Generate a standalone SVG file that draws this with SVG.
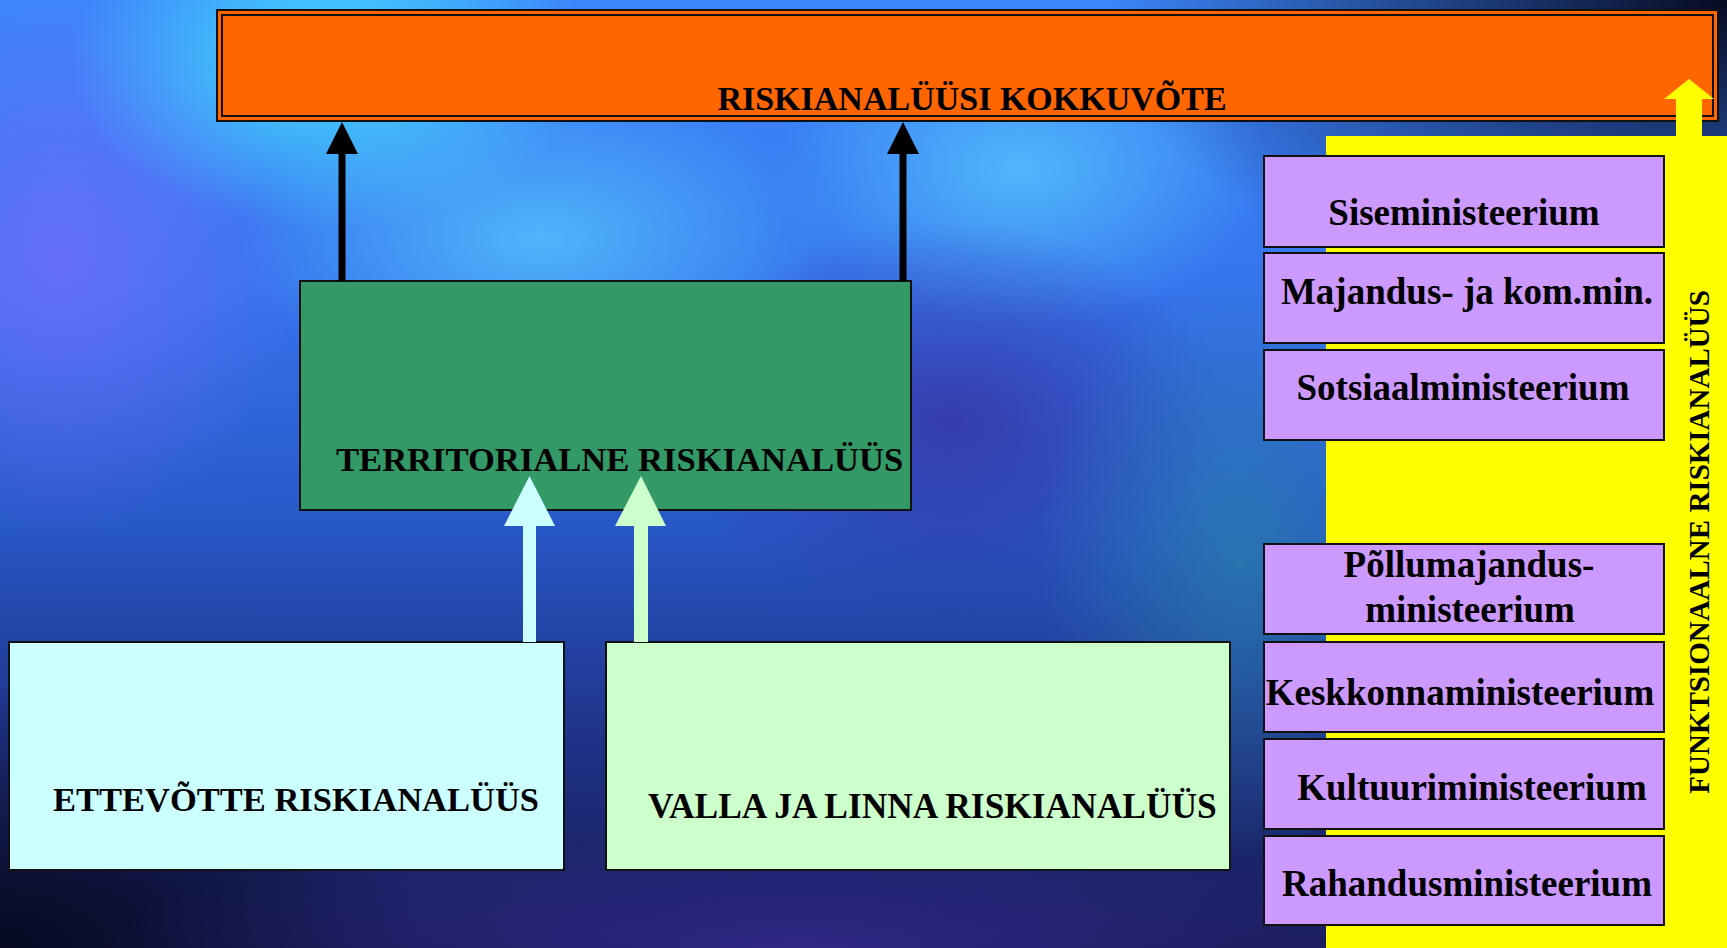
<svg xmlns="http://www.w3.org/2000/svg" width="1727" height="948" viewBox="0 0 1727 948">
<style>
.t{font-family:"Liberation Serif","Times New Roman",serif;font-weight:bold;fill:#000}
.box{stroke:#111;stroke-width:2}
.min{fill:#CC99FF;stroke:#111;stroke-width:2}
.mt{font-size:37px;text-anchor:middle}
.big{font-size:34px}
</style>
<defs>
<linearGradient id="bgv" x1="0" y1="0" x2="0" y2="1">
<stop offset="0" stop-color="#3c86fa"/>
<stop offset="0.3" stop-color="#3674ee"/>
<stop offset="0.55" stop-color="#2858c8"/>
<stop offset="0.78" stop-color="#1f3288"/>
<stop offset="1" stop-color="#161a52"/>
</linearGradient>
<radialGradient id="cy1" cx="0.5" cy="0.5" r="0.5"><stop offset="0" stop-color="#46e2ff" stop-opacity="0.95"/><stop offset="1" stop-color="#46e2ff" stop-opacity="0"/></radialGradient>
<radialGradient id="cy2" cx="0.5" cy="0.5" r="0.5"><stop offset="0" stop-color="#5ad0ff" stop-opacity="0.7"/><stop offset="1" stop-color="#5ad0ff" stop-opacity="0"/></radialGradient>
<radialGradient id="pu" cx="0.5" cy="0.5" r="0.5"><stop offset="0" stop-color="#7a6cff" stop-opacity="0.7"/><stop offset="1" stop-color="#7a6cff" stop-opacity="0"/></radialGradient>
<radialGradient id="dk" cx="0.5" cy="0.5" r="0.5"><stop offset="0" stop-color="#070a22" stop-opacity="1"/><stop offset="1" stop-color="#070a22" stop-opacity="0"/></radialGradient>
<radialGradient id="tl" cx="0.5" cy="0.5" r="0.5"><stop offset="0" stop-color="#2a8aa8" stop-opacity="0.6"/><stop offset="1" stop-color="#2a8aa8" stop-opacity="0"/></radialGradient>
<radialGradient id="vi" cx="0.5" cy="0.5" r="0.5"><stop offset="0" stop-color="#3a2c9a" stop-opacity="0.7"/><stop offset="1" stop-color="#3a2c9a" stop-opacity="0"/></radialGradient>
</defs>
<g id="background">
<rect width="1727" height="948" fill="url(#bgv)"/>
<ellipse cx="60" cy="260" rx="240" ry="280" fill="url(#pu)"/>
<ellipse cx="330" cy="60" rx="260" ry="170" fill="url(#cy1)"/>
<ellipse cx="540" cy="240" rx="300" ry="160" fill="url(#cy2)"/>
<ellipse cx="1020" cy="170" rx="250" ry="160" fill="url(#cy2)"/>
<ellipse cx="950" cy="420" rx="280" ry="200" fill="url(#vi)"/>
<ellipse cx="1240" cy="560" rx="200" ry="300" fill="url(#tl)"/>
<ellipse cx="1727" cy="0" rx="620" ry="330" fill="url(#dk)"/>
<ellipse cx="0" cy="948" rx="420" ry="260" fill="url(#dk)"/>
<ellipse cx="800" cy="948" rx="700" ry="120" fill="url(#vi)"/>
</g>
<g id="yellow-band">
<rect x="1326" y="136" width="401" height="812" fill="#FFFF00"/>
</g>
<g id="kokkuvote">
<rect x="217" y="10" width="1501" height="111" fill="#FF6600" class="box"/>
<rect x="222" y="15" width="1491" height="101" fill="none" class="box"/>
<text class="t big" x="972" y="110" text-anchor="middle">RISKIANALÜÜSI KOKKUVÕTE</text>
</g>
<g id="territorialne">
<rect x="300" y="281" width="611" height="229" fill="#339966" class="box"/>
<text class="t" font-size="34.6" x="336" y="471">TERRITORIALNE RISKIANALÜÜS</text>
</g>
<g id="ettevotte">
<rect x="9" y="642" width="555" height="228" fill="#CCFFFF" class="box"/>
<text class="t" font-size="34.5" x="53" y="811">ETTEVÕTTE RISKIANALÜÜS</text>
</g>
<g id="valla">
<rect x="606" y="642" width="624" height="228" fill="#CCFFCC" class="box"/>
<text class="t" font-size="35.4" x="648" y="818">VALLA JA LINNA RISKIANALÜÜS</text>
</g>
<g id="connectors">
<rect x="338.5" y="152" width="7" height="129" fill="#000"/>
<polygon points="342,122 326,154 358,154" fill="#000"/>
<rect x="899.5" y="152" width="7" height="129" fill="#000"/>
<polygon points="903,122 887,154 919,154" fill="#000"/>
<rect x="523" y="524" width="13" height="118" fill="#CCFFFF"/>
<polygon points="529.5,476 504,526 555,526" fill="#CCFFFF"/>
<rect x="634" y="524" width="14" height="118" fill="#CCFFCC"/>
<polygon points="641,476 615,526 666,526" fill="#CCFFCC"/>
<rect x="1676" y="97" width="26" height="40" fill="#FFFF00"/>
<polygon points="1689,79 1664,99 1714,99" fill="#FFFF00"/>
</g>
<g id="funktsionaalne">
<text class="t" font-size="29" text-anchor="middle" transform="translate(1709,542) rotate(-90)">FUNKTSIONAALNE RISKIANALÜÜS</text>
</g>
<g id="siseministeerium"><rect class="min" x="1264" y="156" width="400" height="91"/><text class="t mt" x="1464" y="225">Siseministeerium</text></g>
<g id="majandus"><rect class="min" x="1264" y="253" width="400" height="90"/><text class="t mt" x="1467" y="304">Majandus- ja kom.min.</text></g>
<g id="sotsiaal"><rect class="min" x="1264" y="350" width="400" height="90"/><text class="t mt" x="1463" y="400">Sotsiaalministeerium</text></g>
<g id="pollumajandus"><rect class="min" x="1264" y="544" width="400" height="90"/><text class="t mt" x="1469" y="577">Põllumajandus-</text><text class="t mt" x="1470" y="622">ministeerium</text></g>
<g id="keskkonna"><rect class="min" x="1264" y="642" width="400" height="90"/><text class="t mt" x="1460" y="705">Keskkonnaministeerium</text></g>
<g id="kultuuri"><rect class="min" x="1264" y="739" width="400" height="90"/><text class="t mt" x="1472" y="800">Kultuuriministeerium</text></g>
<g id="rahandus"><rect class="min" x="1264" y="836" width="400" height="89"/><text class="t mt" x="1467" y="896">Rahandusministeerium</text></g>
</svg>
